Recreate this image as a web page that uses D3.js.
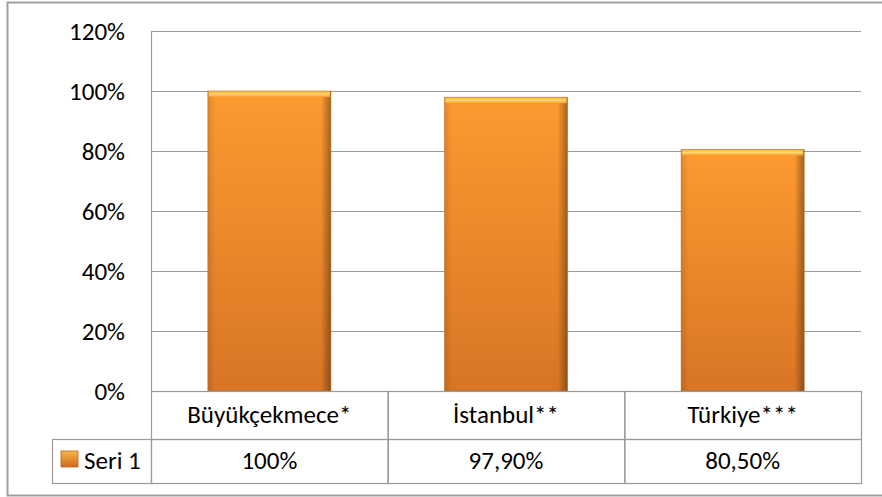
<!DOCTYPE html>
<html>
<head>
<meta charset="utf-8">
<script src="https://cdn.jsdelivr.net/npm/d3@7"></script>
<style>
  body { margin: 0; background: #fff; }
  svg text { font-family: Carlito, Lato, "Open Sans", sans-serif; fill: #000; }
</style>
</head>
<body>
<div id="chart"></div>
<script>
const categories = ['Büyükçekmece*', 'İstanbul**', 'Türkiye***'];
const values = [1.0, 0.979, 0.805];
const valueLabels = ['100%', '97,90%', '80,50%'];
const seriesName = 'Seri 1';
const yTicks = [0, 0.2, 0.4, 0.6, 0.8, 1.0, 1.2];

const W = 882, H = 497;
const plot = { left: 151, right: 861, top: 31, bottom: 391 };
const rowH = 46;
const fs = 25;

const svg = d3.select('#chart').append('svg').attr('width', W).attr('height', H);

const defs = svg.append('defs');
const grad = defs.append('linearGradient').attr('id', 'barGrad').attr('x1', 0).attr('y1', 0).attr('x2', 0).attr('y2', 1);
grad.append('stop').attr('offset', '0%').attr('stop-color', '#fd9a30');
grad.append('stop').attr('offset', '100%').attr('stop-color', '#d87525');
const side = defs.append('linearGradient').attr('id', 'sideGrad').attr('x1', 0).attr('y1', 0).attr('x2', 1).attr('y2', 0);
side.append('stop').attr('offset', '0%').attr('stop-color', '#000').attr('stop-opacity', 0.12);
side.append('stop').attr('offset', '6%').attr('stop-color', '#000').attr('stop-opacity', 0);
side.append('stop').attr('offset', '92%').attr('stop-color', '#000').attr('stop-opacity', 0);
side.append('stop').attr('offset', '100%').attr('stop-color', '#000').attr('stop-opacity', 0.35);
const capGrad = defs.append('linearGradient').attr('id', 'topGrad').attr('x1', 0).attr('y1', 0).attr('x2', 0).attr('y2', 1);
capGrad.append('stop').attr('offset', '0%').attr('stop-color', '#f5b040');
capGrad.append('stop').attr('offset', '50%').attr('stop-color', '#ffd86a');
capGrad.append('stop').attr('offset', '100%').attr('stop-color', '#fd9a30');

// outer frame
svg.append('rect').attr('x', 7.5).attr('y', 2.5).attr('width', W).attr('height', H - 4)
  .attr('fill', 'none').attr('stroke', '#a0a0a0').attr('stroke-width', 2);

const x = d3.scaleBand().domain(categories).range([plot.left, plot.right]).paddingInner(0.48).paddingOuter(0.24);
const xCell = d3.scaleBand().domain(categories).range([plot.left, plot.right]);
const y = d3.scaleLinear().domain([0, 1.2]).range([plot.bottom, plot.top]);

// gridlines
svg.append('g').selectAll('line').data(yTicks).join('line')
  .attr('x1', plot.left).attr('x2', plot.right)
  .attr('y1', d => Math.round(y(d)) + 0.5).attr('y2', d => Math.round(y(d)) + 0.5)
  .attr('stroke', '#9a9a9a').attr('stroke-width', 1.2);
svg.append('line').attr('x1', plot.left + 0.5).attr('x2', plot.left + 0.5)
  .attr('y1', plot.top).attr('y2', plot.bottom).attr('stroke', '#9a9a9a').attr('stroke-width', 1.2);

// y axis labels
const yAxis = d3.axisLeft(y).tickValues(yTicks).tickFormat(d3.format('.0%')).tickSize(0).tickPadding(0);
const ya = svg.append('g').attr('transform', 'translate(125,0)').call(yAxis);
ya.select('.domain').remove();
ya.selectAll('text').attr('font-size', fs).attr('font-family', 'Carlito, Lato, "Open Sans", sans-serif').attr('fill', '#000');

// bars
const bars = svg.append('g').selectAll('g').data(categories).join('g');
bars.append('rect')
  .attr('x', d => x(d)).attr('width', x.bandwidth())
  .attr('y', (d, i) => y(values[i])).attr('height', (d, i) => y(0) - y(values[i]))
  .attr('fill', 'url(#barGrad)');
bars.append('rect')
  .attr('x', d => x(d)).attr('width', x.bandwidth())
  .attr('y', (d, i) => y(values[i])).attr('height', (d, i) => y(0) - y(values[i]))
  .attr('fill', 'url(#sideGrad)');
bars.append('rect')
  .attr('x', d => x(d) + 1).attr('width', x.bandwidth() - 2)
  .attr('y', (d, i) => y(values[i])).attr('height', 6)
  .attr('fill', 'url(#topGrad)');
bars.append('rect')
  .attr('x', d => x(d)).attr('width', x.bandwidth())
  .attr('y', (d, i) => y(values[i])).attr('height', (d, i) => y(0) - y(values[i]))
  .attr('fill', 'none').attr('stroke', '#b8651e').attr('stroke-opacity', 0.5).attr('stroke-width', 1);

// data table
const table = svg.append('g');
const rows = [plot.bottom, plot.bottom + rowH + 2];
table.selectAll('rect.cat').data(categories).join('rect')
  .attr('x', d => xCell(d) + 0.5).attr('y', rows[0] + 0.5)
  .attr('width', xCell.bandwidth()).attr('height', rowH + 2)
  .attr('fill', 'none').attr('stroke', '#9a9a9a').attr('stroke-width', 1.2);
table.selectAll('rect.val').data(categories).join('rect')
  .attr('x', d => xCell(d) + 0.5).attr('y', rows[1] + 0.5)
  .attr('width', xCell.bandwidth()).attr('height', rowH - 2)
  .attr('fill', 'none').attr('stroke', '#9a9a9a').attr('stroke-width', 1.2);
table.append('rect').attr('x', 52.5).attr('y', rows[1] + 0.5).attr('width', plot.left - 52).attr('height', rowH - 2)
  .attr('fill', 'none').attr('stroke', '#9a9a9a').attr('stroke-width', 1.2);

table.selectAll('text.cat').data(categories).join('text')
  .attr('x', d => xCell(d) + xCell.bandwidth() / 2).attr('y', rows[0] + 32)
  .attr('text-anchor', 'middle').attr('font-size', fs).text(d => d);
table.selectAll('text.val').data(valueLabels).join('text')
  .attr('x', (d, i) => xCell(categories[i]) + xCell.bandwidth() / 2).attr('y', rows[1] + 30)
  .attr('text-anchor', 'middle').attr('font-size', fs).text(d => d);

// legend key
const lg = defs.append('linearGradient').attr('id', 'keyGrad').attr('x1', 0).attr('y1', 0).attr('x2', 0).attr('y2', 1);
lg.append('stop').attr('offset', '0%').attr('stop-color', '#f7b648');
lg.append('stop').attr('offset', '100%').attr('stop-color', '#cf6a1c');
table.append('rect').attr('x', 61).attr('y', rows[1] + 12).attr('width', 17).attr('height', 16)
  .attr('fill', 'url(#keyGrad)').attr('stroke', '#b8651e').attr('stroke-width', 0.8);
table.append('text').attr('x', 84).attr('y', rows[1] + 30).attr('font-size', fs).text(seriesName);
</script>
</body>
</html>
